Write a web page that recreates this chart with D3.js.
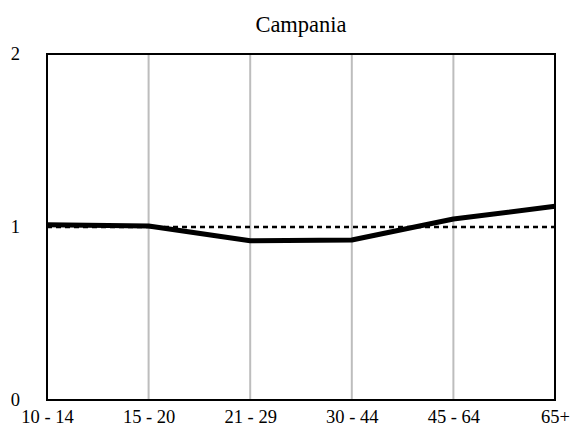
<!DOCTYPE html>
<html>
<head>
<meta charset="utf-8">
<script src="https://cdn.jsdelivr.net/npm/d3@7"></script>
<style>
  body { margin: 0; background: #fff; }
</style>
</head>
<body>
<svg id="chart" width="573" height="433"></svg>
<script>
const title = 'Campania';
const ageGroups = ['10 - 14', '15 - 20', '21 - 29', '30 - 44', '45 - 64', '65+'];
const values = [1.013, 1.006, 0.92, 0.925, 1.046, 1.12];
const referenceValue = 1;
const yTicks = [0, 1, 2];

const FONT = "'Times New Roman', Times, 'Liberation Serif', 'Nimbus Roman', 'Noto Serif', FreeSerif, 'DejaVu Serif', serif";

const svg = d3.select('#chart');
const margin = { top: 54, right: 18, bottom: 33, left: 47 };
const width = 573 - margin.left - margin.right;
const height = 433 - margin.top - margin.bottom;

const x = d3.scalePoint().domain(ageGroups).range([0, width]);
const y = d3.scaleLinear().domain([0, 2]).range([height, 0]);

const g = svg.append('g').attr('transform', `translate(${margin.left},${margin.top})`);

// vertical grid lines
g.append('g')
  .selectAll('line')
  .data(ageGroups.slice(1, -1))
  .join('line')
  .attr('x1', (d) => x(d))
  .attr('x2', (d) => x(d))
  .attr('y1', 0)
  .attr('y2', height)
  .attr('stroke', '#bdbdbd')
  .attr('stroke-width', 2);

// reference line at 1
g.append('line')
  .attr('x1', 0)
  .attr('x2', width)
  .attr('y1', y(referenceValue))
  .attr('y2', y(referenceValue))
  .attr('stroke', '#000')
  .attr('stroke-width', 2.5)
  .attr('stroke-dasharray', '5,4');

// data line
g.append('path')
  .datum(values)
  .attr('fill', 'none')
  .attr('stroke', '#000')
  .attr('stroke-width', 5)
  .attr('stroke-linejoin', 'round')
  .attr('d', d3.line().x((d, i) => x(ageGroups[i])).y((d) => y(d)));

// frame
g.append('rect')
  .attr('width', width)
  .attr('height', height)
  .attr('fill', 'none')
  .attr('stroke', '#000')
  .attr('stroke-width', 2);

// axes (labels only)
const yAxis = g.append('g')
  .call(d3.axisLeft(y).tickValues(yTicks).tickFormat(d3.format('d')).tickSize(0).tickPadding(27));
yAxis.select('.domain').remove();
yAxis.selectAll('text')
  .style('font-family', FONT)
  .style('font-size', '18.5px')
  .attr('fill', '#000');

const xAxis = g.append('g')
  .attr('transform', `translate(0,${height})`)
  .call(d3.axisBottom(x).tickSize(0).tickPadding(10));
xAxis.select('.domain').remove();
xAxis.selectAll('text')
  .style('font-family', FONT)
  .style('font-size', '18.5px')
  .attr('fill', '#000');

svg.append('text')
  .attr('x', margin.left + width / 2)
  .attr('y', 31.5)
  .attr('text-anchor', 'middle')
  .style('font-family', FONT)
  .style('font-size', '22.5px')
  .text(title);
</script>
</body>
</html>
